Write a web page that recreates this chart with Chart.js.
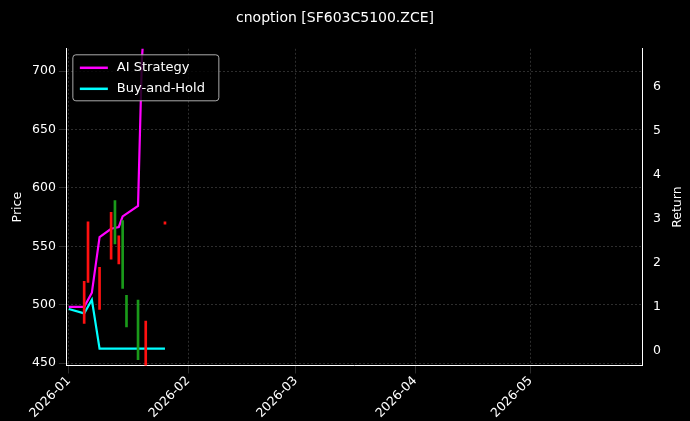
<!DOCTYPE html>
<html>
<head>
<meta charset="utf-8">
<script src="https://cdn.jsdelivr.net/npm/chart.js@4"></script>
<style>
  body { margin: 0; background: #000; }
  #wrap { width: 690px; height: 421px; }
</style>
</head>
<body>
<div id="wrap"><canvas id="c"></canvas></div>
<script>
const title = "cnoption [SF603C5100.ZCE]";
const monthTicks = ["2026-01", "2026-02", "2026-03", "2026-04", "2026-05"];

// candles: date, low, high, up?
const candleDates = ["2026-01-05", "2026-01-06", "2026-01-09", "2026-01-12", "2026-01-13", "2026-01-14", "2026-01-15", "2026-01-16", "2026-01-19", "2026-01-21", "2026-01-26"];
const candleLow =   [484, 519, 496, 539, 552, 535, 514, 481, 453, 445, 569];
const candleHigh =  [520, 571, 532, 579, 589, 559, 572, 508, 504, 486, 571];
const candleUp =    [false, false, false, false, true, false, true, true, true, false, false];

const lineDates = ["2026-01-01", "2026-01-05", "2026-01-07", "2026-01-09", "2026-01-12", "2026-01-14", "2026-01-15", "2026-01-19", "2026-01-20", "2026-01-21", "2026-01-26"];
const aiReturn =  [1.0, 1.0, 1.32, 2.58, 2.77, 2.81, 3.05, 3.29, 6.6, 8.0, 8.0];
const bhReturn =  [0.95, 0.85, 1.16, 0.05, 0.05, 0.05, 0.05, 0.05, 0.05, 0.05, 0.05];

const t = d => Date.parse(d + "T00:00:00Z");
const DAY = 86400000;
const FONT = { size: 12.5, family: "DejaVu Sans" };

const legendPlugin = {
  id: "innerLegend",
  afterDraw(chart) {
    const ctx = chart.ctx, a = chart.chartArea;
    const items = chart.data.datasets.filter(d => d.type === "line");
    const x = a.left + 6, y = a.top + 6, w = 146, h = 46;
    ctx.save();
    ctx.fillStyle = "rgba(0,0,0,0.8)";
    ctx.strokeStyle = "#aaa";
    ctx.lineWidth = 1;
    ctx.beginPath();
    ctx.roundRect(x, y, w, h, 3);
    ctx.fill(); ctx.stroke();
    ctx.font = "13px 'DejaVu Sans'";
    ctx.textBaseline = "middle";
    items.forEach((d, i) => {
      const yy = y + 13 + i * 21;
      ctx.strokeStyle = d.borderColor; ctx.lineWidth = 2.5;
      ctx.beginPath(); ctx.moveTo(x + 7, yy); ctx.lineTo(x + 35, yy); ctx.stroke();
      ctx.fillStyle = "#fff";
      ctx.fillText(d.label, x + 44, yy);
    });
    // right axis title, reading bottom-to-top
    ctx.translate(chart.width - 12, (a.top + a.bottom) / 2);
    ctx.rotate(-Math.PI / 2);
    ctx.textAlign = "center";
    ctx.font = "12.5px 'DejaVu Sans'";
    ctx.fillText("Return", 0, 0);
    ctx.restore();
  }
};

const gridStyle = { color: "rgba(150,150,150,0.5)", lineWidth: 0.6 };
const borderStyle = { color: "#fff", dash: [2, 2] };

new Chart(document.getElementById("c"), {
  data: {
    datasets: [
      {
        type: "bar", label: "candles", yAxisID: "y",
        data: candleDates.map((d, i) => ({ x: t(d), y: [candleLow[i], candleHigh[i]] })),
        backgroundColor: candleUp.map(u => u ? "#1a9a1a" : "#ff1010"),
        barThickness: 2, grouped: false
      },
      {
        type: "line", label: "AI Strategy", yAxisID: "y2",
        data: lineDates.map((d, i) => ({ x: t(d), y: aiReturn[i] })),
        borderColor: "#ff00ff", borderWidth: 2.2, pointRadius: 0, tension: 0
      },
      {
        type: "line", label: "Buy-and-Hold", yAxisID: "y2",
        data: lineDates.map((d, i) => ({ x: t(d), y: bhReturn[i] })),
        borderColor: "#00ffff", borderWidth: 2.2, pointRadius: 0, tension: 0
      }
    ]
  },
  options: {
    responsive: true, maintainAspectRatio: false, animation: false,
    layout: { padding: { left: 6, right: 26, top: 0, bottom: 0 } },
    plugins: {
      legend: { display: false },
      tooltip: { enabled: false },
      title: { display: true, text: title, color: "#fff", font: { size: 14, family: "DejaVu Sans", weight: "normal" }, padding: { top: 10, bottom: 22 } }
    },
    scales: {
      x: {
        type: "linear", offset: false, min: t("2025-12-31") + 0.5 * DAY, max: t("2026-05-30"),
        afterBuildTicks: ax => { ax.ticks = monthTicks.map(m => ({ value: t(m + "-01") })); },
        ticks: {
          color: "#fff", font: FONT, maxRotation: 45, minRotation: 45, padding: 0,
          callback: v => new Date(v).toISOString().slice(0, 7)
        },
        grid: { ...gridStyle, offset: false }, border: borderStyle
      },
      y: {
        position: "left", min: 448, max: 719,
        afterBuildTicks: ax => { ax.ticks = [450, 500, 550, 600, 650, 700].map(v => ({ value: v })); },
        ticks: { color: "#fff", font: FONT },
        title: { display: true, text: "Price", color: "#fff", font: FONT },
        grid: gridStyle, border: borderStyle
      },
      y2: {
        position: "right", min: -0.33, max: 6.85,
        afterBuildTicks: ax => { ax.ticks = [0, 1, 2, 3, 4, 5, 6].map(v => ({ value: v })); },
        ticks: { color: "#fff", font: FONT },
        grid: { display: false }, border: { color: "#fff" }
      }
    }
  },
  plugins: [legendPlugin]
});
</script>
</body>
</html>
